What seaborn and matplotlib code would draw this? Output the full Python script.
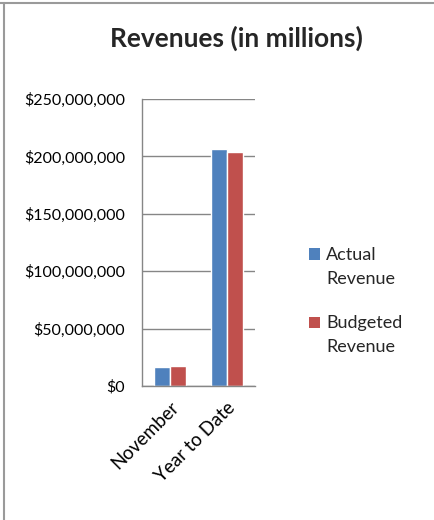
import matplotlib
matplotlib.use("Agg")
import matplotlib.pyplot as plt
import seaborn as sns
import pandas as pd
from matplotlib.ticker import FuncFormatter, MultipleLocator
from matplotlib.lines import Line2D
from matplotlib.patches import Rectangle

categories = ["November", "Year to Date"]
series_names = ["Actual\nRevenue", "Budgeted\nRevenue"]
actual = [16_800_000, 206_200_000]
budgeted = [17_400_000, 203_600_000]
colors = ["#4F81BD", "#C0504D"]

df = pd.DataFrame({
    "category": categories * 2,
    "series": [series_names[0]] * 2 + [series_names[1]] * 2,
    "value": actual + budgeted,
})

sns.set_style("white")
plt.rcParams["font.family"] = ["Lato", "DejaVu Sans"]

W, H = 434, 520
fig = plt.figure(figsize=(W / 100, H / 100), dpi=100)
ax = fig.add_axes([142 / W, 1 - 386 / H, 113 / W, 287 / H])

sns.barplot(data=df, x="category", y="value", hue="series", palette=colors,
            width=0.566, gap=0, saturation=1, ax=ax, legend=False)

ax.set_ylim(0, 250_000_000)
ax.yaxis.set_major_locator(MultipleLocator(50_000_000))
ax.yaxis.set_major_formatter(FuncFormatter(lambda v, p: f"${v:,.0f}"))
ax.grid(axis="y", color="#868686", linewidth=1)
ax.set_axisbelow(True)
for s in ["top", "right"]:
    ax.spines[s].set_visible(False)
for s in ["left", "bottom"]:
    ax.spines[s].set_color("#868686")
    ax.spines[s].set_linewidth(1)
ax.set_xlabel("")
ax.set_ylabel("")
ax.tick_params(axis="y", length=0, pad=12, labelsize=11.5, labelcolor="black")
ax.tick_params(axis="x", length=0, pad=9, labelsize=13.5, labelcolor="black")
for lbl in ax.get_xticklabels():
    lbl.set_rotation(45)
    lbl.set_ha("right")
    lbl.set_rotation_mode("anchor")

# legend (handle aligned with first text line, as in the reference)
leg_y = [254, 322]
for name, col, yc in zip(series_names, colors, leg_y):
    fig.add_artist(Rectangle((309 / W, 1 - (yc + 5.5) / H), 11 / W, 11 / H,
                             transform=fig.transFigure, facecolor=col, edgecolor="none"))
    fig.text(326 / W, 1 - (yc - 7) / H, name, ha="left", va="top", fontsize=13,
             linespacing=1.65)

fig.text(236 / W, 1 - 38 / H, "Revenues (in millions)", ha="center", va="center",
         fontsize=19, fontweight="bold")

fig.add_artist(Line2D([0, 1], [1 - 3 / H, 1 - 3 / H], transform=fig.transFigure,
                      color="#9a9a9a", linewidth=1.5))
fig.add_artist(Line2D([4 / W, 4 / W], [0, 1 - 3 / H], transform=fig.transFigure,
                      color="#9a9a9a", linewidth=1.5))

fig.savefig("out.png", dpi=100, facecolor="white")
